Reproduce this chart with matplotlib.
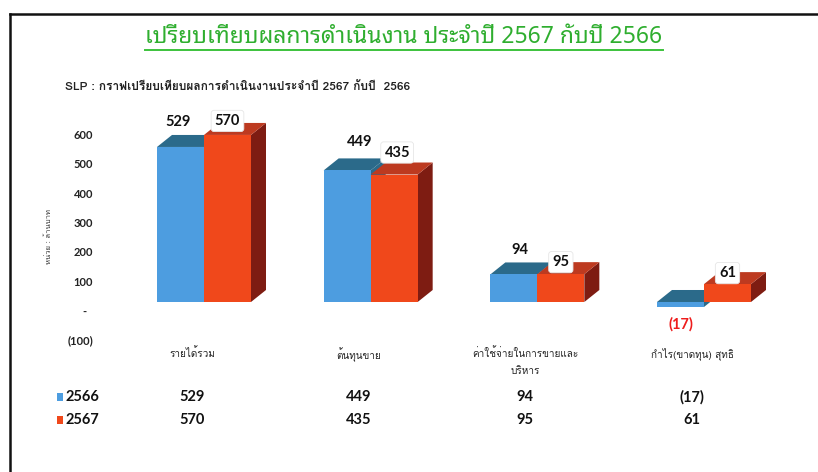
import matplotlib
matplotlib.use('Agg')
import matplotlib.pyplot as plt
from matplotlib.patches import Polygon, Rectangle
from matplotlib.lines import Line2D
import matplotlib.transforms as mtransforms

# ---------------- datos ----------------
categorias = ['รายได้รวม', 'ต้นทุนขาย', 'ค่าใช้จ่ายในการขายและ\nบริหาร', 'กำไร(ขาดทุน) สุทธิ']
y2566 = [529, 449, 94, -17]
y2567 = [570, 435, 95, 61]
series_names = ['2566', '2567']
yticks = [600, 500, 400, 300, 200, 100, 0, -100]

titulo = 'เปรียบเทียบผลการดำเนินงาน ประจำปี 2567 กับปี 2566'
subtitulo = 'SLP : กราฟเปรียบเทียบผลการดำเนินงานประจำปี 2567 กับปี  2566'
unidad = 'หน่วย : ล้านบาท'

def fmt(v):
    if v < 0:
        return '(%d)' % abs(v)
    if v == 0:
        return '-  '
    return '%d' % v

# colores
azul, azul_top = '#4d9de0', '#2b6a8a'
naranja, naranja_top, naranja_side = '#f0481b', '#bd3a20', '#7e1c12'

thai = ['Loma', 'Noto Sans Thai Looped', 'DejaVu Sans']
num = ['Lato', 'DejaVu Sans']
tit = ['Liberation Sans Narrow', 'Noto Sans Thai Looped', 'DejaVu Sans']

# desplazamientos de las etiquetas (pixeles), como en el original
off_azul = [(-2, 25), (12, 28), (6, 24), (0, -17)]
off_nar = [(0, 14), (3, 22), (0, 12), (0, 11)]

W, H = 818, 472
fig = plt.figure(figsize=(W / 100, H / 100), dpi=100)

# borde
fig.add_artist(Line2D([10 / W, 10 / W], [0, 1 - 14 / H], color='#111111', lw=1.8))
fig.add_artist(Line2D([10 / W, 1], [1 - 14 / H, 1 - 14 / H], color='#111111', lw=1.8))

# ejes de las barras (pixeles 104..804, 111.5..331.3)
ax = fig.add_axes([104 / W, (H - 331.3) / H, 700 / W, (331.3 - 111.5) / H])
ax.set_xlim(-0.6, 3.6)
ax.set_ylim(-100, 650)
ax.axis('off')

px_x = 700 / 4.2
px_y = 219.8 / 750
dxu = 15 / px_x
dyu = 12 / px_y
w = 47 / px_x

def barra3d(x0, v, front, top, side, z):
    hi = max(0, v)
    lo = min(0, v)
    ax.add_patch(Polygon([(x0 + w, lo), (x0 + w, hi), (x0 + w + dxu, hi + dyu), (x0 + w + dxu, lo + dyu)],
                         closed=True, fc=side, ec='none', zorder=z))
    ax.add_patch(Polygon([(x0, hi), (x0 + w, hi), (x0 + w + dxu, hi + dyu), (x0 + dxu, hi + dyu)],
                         closed=True, fc=top, ec='none', zorder=z))
    ax.bar([x0], [v], width=w, align='edge', color=front, zorder=z + 0.5)

for i in range(len(categorias)):
    barra3d(i - w, y2566[i], azul, azul_top, azul_top, 2 + i)
    barra3d(i, y2567[i], naranja, naranja_top, naranja_side, 2.6 + i)
    # etiquetas
    v = y2566[i]
    ax.annotate(fmt(v), (i - w / 2, v), xytext=off_azul[i], textcoords='offset pixels',
                ha='center', va='center', fontsize=10.5, fontweight='bold', family=num,
                color='#111111' if v >= 0 else '#ee1c1c', zorder=20)
    v = y2567[i]
    ax.annotate(fmt(v), (i + w / 2, v), xytext=off_nar[i], textcoords='offset pixels',
                ha='center', va='center', fontsize=10.5, fontweight='bold', family=num, color='#111111', zorder=20,
                bbox=dict(boxstyle='round,pad=0.25,rounding_size=0.2', fc='white', ec='#e6e6e6', lw=0.6))

# etiquetas del eje y (desplazadas como en el grafico 3D)
off = mtransforms.ScaledTranslation(0, -0.095, fig.dpi_scale_trans)
for t in yticks:
    ax.text(93 / W, t, fmt(t), transform=mtransforms.blended_transform_factory(fig.transFigure, ax.transData) + off,
            ha='right', va='center', fontsize=8, fontweight='bold', family=num, color='#222222')

fig.text(49 / W, 1 - 236 / H, unidad, rotation=90, ha='center', va='center', fontsize=5.5, family=thai, color='#333333')

# titulo y subtitulo
t = fig.text(404 / W, 1 - 37 / H, titulo, ha='center', va='center', fontsize=16.5, fontweight='bold',
             family=tit, color='#2fae2f')
fig.canvas.draw()
bb = t.get_window_extent(fig.canvas.get_renderer())
fig.add_artist(Line2D([bb.x0 / W, bb.x1 / W], [1 - 50 / H, 1 - 50 / H], color='#3cc23c', lw=1.4))

fig.text(65 / W, 1 - 86 / H, subtitulo, ha='left', va='center', fontsize=8.6, fontweight='bold',
         family=['Liberation Sans Narrow', 'Loma', 'DejaVu Sans'], color='#222222')

# tabla de datos
tcol = mtransforms.blended_transform_factory(ax.transData, fig.transFigure) + \
    mtransforms.ScaledTranslation(-0.12, 0, fig.dpi_scale_trans)

for i, c in enumerate(categorias):
    fig.text(i, 1 - 347 / H, c, transform=tcol, ha='center', va='top', fontsize=7.2, family=thai,
             color='#222222', linespacing=2.2)
    fig.text(i, 1 - 397 / H, fmt(y2566[i]), transform=tcol, ha='center', va='center', fontsize=10.5,
             fontweight='bold', family=num, color='#111111')
    fig.text(i, 1 - 420 / H, fmt(y2567[i]), transform=tcol, ha='center', va='center', fontsize=10.5,
             fontweight='bold', family=num, color='#111111')

for k, (nm, col, yy) in enumerate(zip(series_names, [azul, naranja], [397, 420])):
    fig.add_artist(Rectangle((57 / W, 1 - (yy + 4) / H), 6 / W, 8 / H, fc=col, ec='none'))
    fig.text(66 / W, 1 - yy / H, nm, ha='left', va='center', fontsize=10.5, fontweight='bold',
             family=num, color='#111111')

fig.savefig('out.png', dpi=100)
